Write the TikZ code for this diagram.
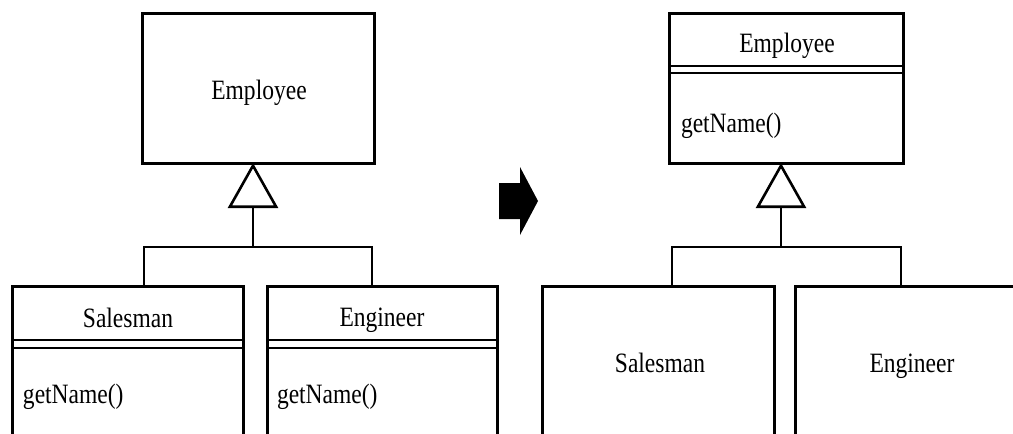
\documentclass[tikz,border=0pt]{standalone}
\usepackage{fontspec}
\usepackage{graphicx}
\setmainfont{Liberation Serif}
\usetikzlibrary{arrows.meta,calc}
% narrow the serif text a little
\newcommand{\cond}[1]{\scalebox{0.84}[1]{#1}}
\begin{document}
\begin{tikzpicture}[x=1pt,y=-1pt,
  cls/.style={draw, line width=3pt, anchor=north west, inner sep=0pt, outer sep=0pt},
  lbl/.style={font=\fontsize{28}{32}\selectfont, inner sep=0pt, outer sep=0pt},
  sep/.style={line width=2.5pt},
  link/.style={line width=2.2pt},
  gen/.style={line width=2.2pt, -{Triangle[open, length=45pt, width=50pt, line width=2.6pt]}}
]
\useasboundingbox (0,0) rectangle (1013,434);
\clip (0,0) rectangle (1013,434);

% ---------- before: left hierarchy ----------
\node[cls, minimum width=232pt, minimum height=150pt] (lemp) at (142,13) {};
\node[lbl, anchor=base] (lempt) at (259,99) {\cond{Employee}};

\node[cls, minimum width=231pt, minimum height=170pt] (lsal) at (12,286) {};
\node[cls, minimum width=230pt, minimum height=170pt] (leng) at (267,286) {};
\foreach \b in {lsal,leng}{
  \draw[sep] (\b.west |- 0,340) -- (\b.east |- 0,340);
  \draw[sep] (\b.west |- 0,348) -- (\b.east |- 0,348);
}
\node[lbl, anchor=base] (lsalt) at (128,327) {\cond{Salesman}};
\node[lbl, anchor=base] (lengt) at (382,326) {\cond{Engineer}};
\node[lbl, anchor=base west] (lsalm) at (23,403) {\cond{getName()}};
\node[lbl, anchor=base west] (lengm) at (277,403) {\cond{getName()}};

\coordinate (lj) at (253,247);
\coordinate (ljl) at (144,247);
\coordinate (ljr) at (372,247);
\draw[link] (lsal.north -| ljl) -- (ljl) -- (ljr) -- (leng.north -| ljr);
\draw[gen] (lj) -- (lj |- lemp.south);

% ---------- transformation arrow ----------
\fill (499,183) -- (520,183) -- (520,167) -- (538,201) -- (520,235) -- (520,219) -- (499,219) -- cycle;

% ---------- after: right hierarchy ----------
\node[cls, minimum width=234pt, minimum height=150pt] (remp) at (669,13) {};
\draw[sep] (remp.west |- 0,66) -- (remp.east |- 0,66);
\draw[sep] (remp.west |- 0,73) -- (remp.east |- 0,73);
\node[lbl, anchor=base] (rempt) at (787,52) {\cond{Employee}};
\node[lbl, anchor=base west] (rempm) at (681,132) {\cond{getName()}};

\node[cls, minimum width=232pt, minimum height=170pt] (rsal) at (542,286) {};
\node[cls, minimum width=240pt, minimum height=170pt] (reng) at (795,286) {};
\node[lbl, anchor=base] (rsalt) at (660,372) {\cond{Salesman}};
\node[lbl, anchor=base] (rengt) at (912,372) {\cond{Engineer}};

\coordinate (rj) at (781,247);
\coordinate (rjl) at (672,247);
\coordinate (rjr) at (901,247);
\draw[link] (rsal.north -| rjl) -- (rjl) -- (rjr) -- (reng.north -| rjr);
\draw[gen] (rj) -- (rj |- remp.south);
\end{tikzpicture}
\end{document}
